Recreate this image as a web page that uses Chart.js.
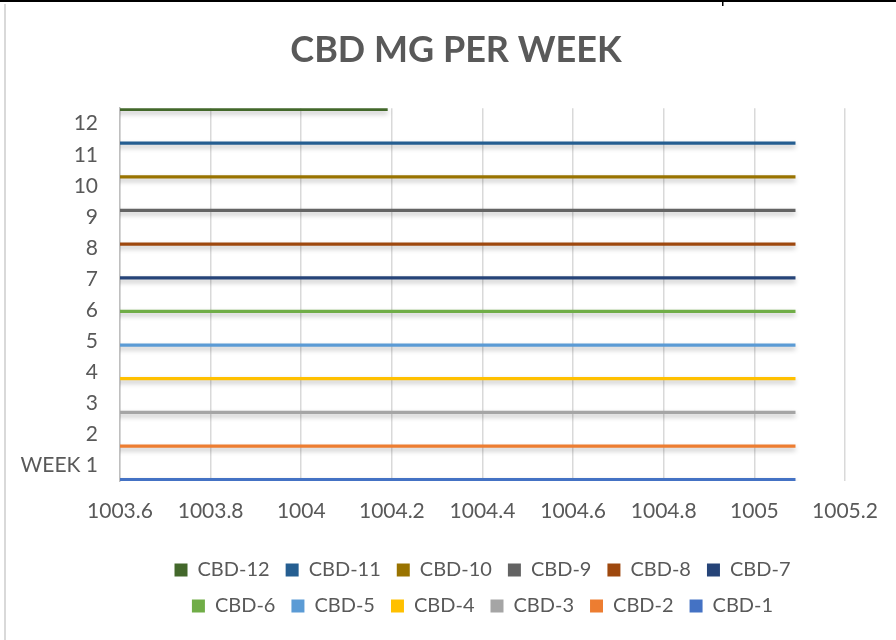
<!DOCTYPE html>
<html>
<head>
<meta charset="utf-8">
<script src="https://cdn.jsdelivr.net/npm/chart.js@4"></script>
<style>
  html, body { margin: 0; padding: 0; background: #fff; }
  #wrap { width: 896px; height: 640px; position: relative; }
</style>
</head>
<body>
<div id="wrap"><canvas id="myChart" width="896" height="640"></canvas></div>
<script>
// values
const weeks = ["WEEK 1", "2", "3", "4", "5", "6", "7", "8", "9", "10", "11", "12"];
const seriesNames = ["CBD-1", "CBD-2", "CBD-3", "CBD-4", "CBD-5", "CBD-6",
                     "CBD-7", "CBD-8", "CBD-9", "CBD-10", "CBD-11", "CBD-12"];
const mgValues = [1005.09, 1005.09, 1005.09, 1005.09, 1005.09, 1005.09,
                  1005.09, 1005.09, 1005.09, 1005.09, 1005.09, 1004.19];
const seriesColors = ["#4472C4", "#ED7D31", "#A5A5A5", "#FFC000", "#5B9BD5", "#70AD47",
                      "#264478", "#9E480E", "#636363", "#997300", "#255E91", "#43682B"];
const xTicks = { min: 1003.6, max: 1005.2, step: 0.2 };

Chart.defaults.font.family = "Lato";
Chart.defaults.color = "#595959";

// one series per week, each only has a value in its own week (like the excel sheet)
// excel lists the last series first in the legend and puts it on top of the band
const datasets = seriesNames.map((name, i) => ({
  label: name,
  data: weeks.map((w, j) => (j === i ? mgValues[i] : null)),
  backgroundColor: seriesColors[i],
  borderWidth: 0
})).reverse();

const frame = {
  id: "frame",
  beforeDraw(chart) {
    const ctx = chart.ctx;
    ctx.save();
    ctx.fillStyle = "#fff";
    ctx.fillRect(0, 0, chart.width, chart.height);
    ctx.fillStyle = "#000";
    ctx.fillRect(0, 0, chart.width, 2);
    ctx.fillRect(722, 0, 1.5, 6);
    ctx.fillStyle = "#d9d9d9";
    ctx.fillRect(4, 4, 2, chart.height);
    ctx.restore();
  }
};

const barShadow = {
  id: "barShadow",
  beforeDatasetsDraw(chart) {
    const ctx = chart.ctx;
    ctx.save();
    ctx.shadowColor = "rgba(0,0,0,0.25)";
    ctx.shadowBlur = 5;
    ctx.shadowOffsetY = 3;
  },
  afterDatasetsDraw(chart) {
    chart.ctx.restore();
  }
};

const ctx = document.getElementById("myChart").getContext("2d");
new Chart(ctx, {
  type: "bar",
  data: { labels: weeks, datasets: datasets },
  options: {
    responsive: false,
    animation: false,
    indexAxis: "y",
    categoryPercentage: 1,
    barPercentage: 1,
    // negative right padding: the title is centred on the whole frame, a bit right of the canvas centre
    layout: { padding: { left: 10, right: -6, top: 0, bottom: 14 } },
    plugins: {
      title: {
        display: true,
        text: "CBD MG PER WEEK",
        color: "#595959",
        font: { size: 36, weight: "bold" },
        padding: { top: 29, bottom: 36 }
      },
      legend: {
        position: "bottom",
        fullSize: false,
        labels: {
          boxWidth: 13,
          boxHeight: 13,
          padding: 16,
          color: "#595959",
          font: { size: 20 }
        }
      },
      tooltip: { enabled: false }
    },
    scales: {
      x: {
        type: "linear",
        min: xTicks.min,
        max: xTicks.max,
        ticks: {
          stepSize: xTicks.step,
          padding: 18,
          font: { size: 21 },
          color: "#595959",
          callback: v => String(+v.toFixed(1))
        },
        grid: { color: "#d9d9d9", lineWidth: 1.5, drawTicks: false },
        border: { display: false },
        afterFit: s => { s.height = 63; }
      },
      y: {
        reverse: true,
        ticks: { padding: 22, font: { size: 21 }, color: "#595959" },
        grid: { display: false, drawTicks: false },
        border: { display: true, color: "#bfbfbf", width: 1.5 },
        afterFit: s => { s.width = 110; }
      },
      // empty strip on the right so the plot ends at 1005.2
      yPad: {
        type: "linear",
        position: "right",
        ticks: { display: false },
        grid: { display: false, drawTicks: false },
        border: { display: false },
        afterFit: s => { s.width = 57; }
      }
    }
  },
  plugins: [frame, barShadow]
});
</script>
</body>
</html>
